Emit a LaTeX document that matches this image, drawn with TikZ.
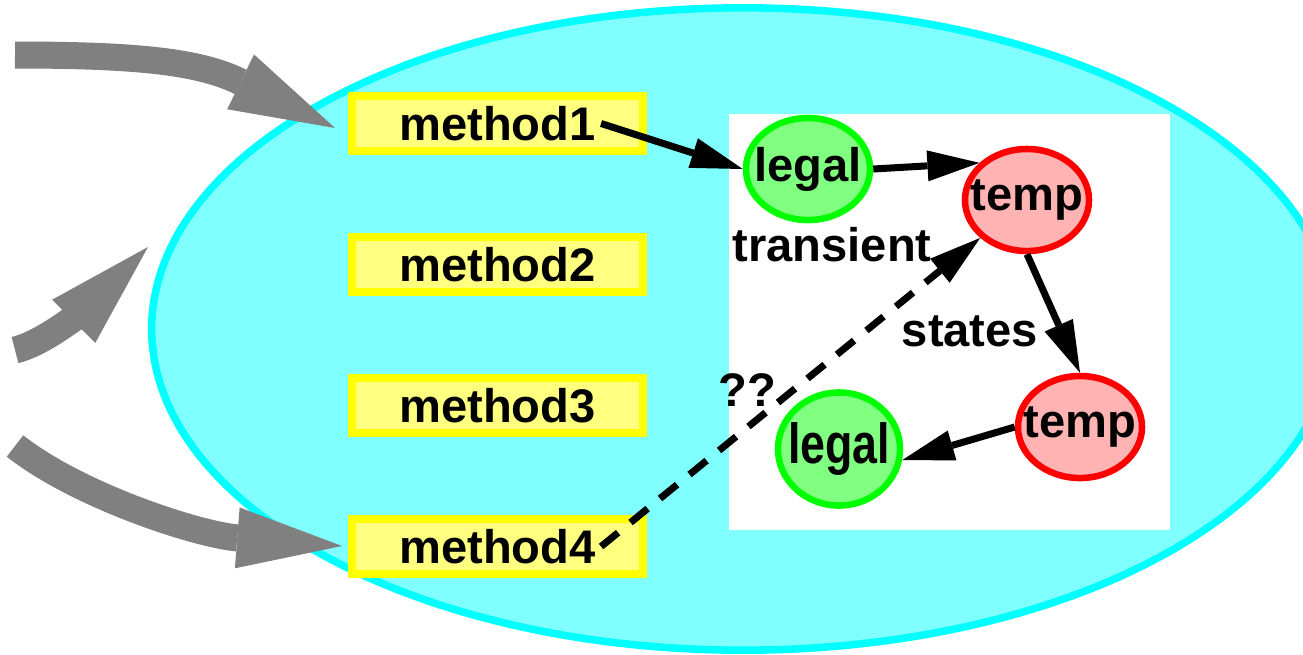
\documentclass[tikz,border=0pt]{standalone}
\usepackage{fontspec}
\setmainfont{Liberation Sans}
\usetikzlibrary{arrows.meta,shapes.geometric}
\definecolor{cyanline}{HTML}{00FFFF}
\definecolor{cyanfill}{HTML}{80FFFF}
\definecolor{yline}{HTML}{FFFF00}
\definecolor{yfill}{HTML}{FFFF80}
\definecolor{gline}{HTML}{00FF00}
\definecolor{gfill}{HTML}{80FF80}
\definecolor{rline}{HTML}{FF0000}
\definecolor{rfill}{HTML}{FFB3B3}
\definecolor{greyarrow}{HTML}{808080}
\begin{document}
\begin{tikzpicture}[x=0.01cm,y=-0.01cm,
  lbl/.style={font=\fontsize{13.4}{16}\selectfont\bfseries, inner sep=0pt},
  methodbox/.style={lbl, rectangle, draw=yline, fill=yfill, line width=0.08cm, minimum width=2.91cm, minimum height=0.55cm},
  legalnode/.style={lbl, ellipse, draw=gline, fill=gfill, line width=0.065cm, minimum width=1.24cm, minimum height=1.02cm},
  tempnode/.style={lbl, ellipse, draw=rline, fill=rfill, line width=0.065cm, minimum width=1.24cm, minimum height=1.02cm},
  flow/.style={line width=0.07cm, -{Triangle[length=0.52cm,width=0.31cm,line width=0pt]}},
  callarrow/.style={greyarrow, line width=0.27cm, -{Triangle[length=1.05cm,width=0.61cm,line width=0pt]}}]

\useasboundingbox (0,0) rectangle (1303,654);
\clip (0,0) rectangle (1303,654);

% class ellipse
\draw[cyanline, fill=cyanfill, line width=0.075cm] (743,329) ellipse [x radius=5.91cm, y radius=3.21cm];
% white state panel
\fill[white] (729,114) rectangle (1170,530);

% methods
\node[methodbox] (m1) at (497.5,123.5) {method1};
\node[methodbox] (m2) at (497.5,264.5) {method2};
\node[methodbox] (m3) at (497.5,405.5) {method3};
\node[methodbox] (m4) at (497.5,546.5) {method4};

% states
\node[legalnode] (l1) at (808,169) {\makebox[0pt]{legal}};
\node[tempnode] (t1) at (1027,200) {\makebox[0pt]{temp}};
\node[tempnode] (t2) at (1080,427) {\makebox[0pt]{temp}};
\node[legalnode, minimum width=1.22cm, minimum height=1.13cm] (l2) at (839,449) {\makebox[0pt]{\scalebox{0.95}[1.2]{legal}}};

% labels
\node[lbl] (tr) at (832,245) {transient};
\node[lbl] (st) at (970,331) {states};
\node[lbl] (qq) at (747,390) {??};

% transitions
\draw[flow] ([xshift=-4.6mm]m1.east) -- (l1.west);
\draw[flow] (l1.east) -- (t1.142);
\draw[flow] (t1.south) -- (t2.north);
\draw[flow] (t2.west) -- (l2.-10);
\draw[flow, dash pattern=on 0.22cm off 0.16cm] ([xshift=-4.6mm]m4.east) -- (t1.219);

% incoming calls
\coordinate (g1s) at (15,55);
\coordinate (g1e) at (335,128);
\coordinate (g2s) at (15,350);
\coordinate (g2e) at (148,247);
\coordinate (g3s) at (15,446);
\coordinate (g3e) at (342,546);
\draw[callarrow] (g1s) .. controls (140,55) and (200,62) .. (g1e);
\draw[callarrow] (g2s) .. controls (50,342) and (100,295) .. (g2e);
\draw[callarrow] (g3s) .. controls (80,497) and (200,535) .. (g3e);
\end{tikzpicture}
\end{document}
